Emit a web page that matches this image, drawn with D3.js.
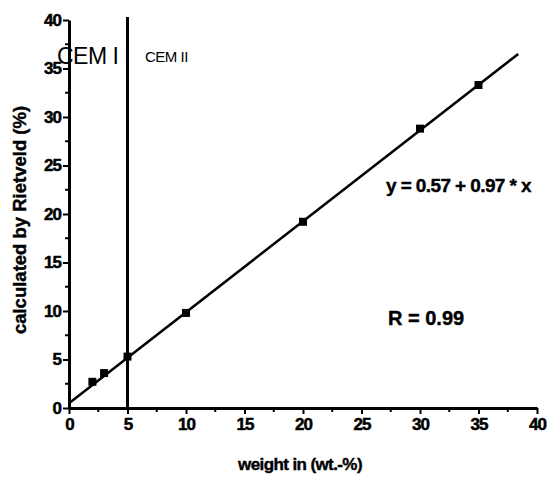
<!DOCTYPE html>
<html>
<head>
<meta charset="utf-8">
<script src="https://cdn.jsdelivr.net/npm/d3@7"></script>
<style>
  body { margin: 0; background: #fff; }
  svg { display: block; }
  text { font-family: "Liberation Sans", Arial, sans-serif; }
</style>
</head>
<body>
<svg id="chart" width="549" height="479"></svg>
<script>
// measured points (weight vs. Rietveld)
const weightX = [2, 3, 5, 10, 20, 30, 35];
const rietveldY = [2.7, 3.6, 5.3, 9.8, 19.2, 28.8, 33.3];
// fitted line as drawn
const fitX = [0, 38.4];
const fitY = [0.5, 36.5];
const majorTicks = [0, 5, 10, 15, 20, 25, 30, 35, 40];
const minorTicks = [2.5, 7.5, 12.5, 17.5, 22.5, 27.5, 32.5, 37.5];
const boundaryX = 5;

const svg = d3.select("#chart");
const x = d3.scaleLinear().domain([0, 40]).range([69, 537]);
const y = d3.scaleLinear().domain([0, 40]).range([408, 20]);

// axes
const xAxis = svg.append("g").attr("transform", "translate(0,408)")
  .call(d3.axisBottom(x).tickValues(majorTicks).tickSize(6).tickSizeOuter(0).tickPadding(4));
const yAxis = svg.append("g").attr("transform", "translate(69,0)")
  .call(d3.axisLeft(y).tickValues(majorTicks).tickSize(6).tickSizeOuter(0).tickPadding(2));
[xAxis, yAxis].forEach(g => {
  g.select(".domain").attr("stroke", "#000").attr("stroke-width", 3);
  g.selectAll(".tick line").attr("stroke", "#000").attr("stroke-width", 2);
  g.selectAll(".tick text").attr("fill", "#000").attr("font-size", 17)
    .attr("font-weight", "bold").attr("letter-spacing", -1)
    .attr("stroke", "#000").attr("stroke-width", 0.5);
});
svg.append("g").selectAll("line").data(minorTicks).enter().append("line")
  .attr("x1", d => x(d)).attr("x2", d => x(d))
  .attr("y1", 408).attr("y2", 412)
  .attr("stroke", "#000").attr("stroke-width", 2);
svg.append("g").selectAll("line").data(minorTicks).enter().append("line")
  .attr("x1", 65).attr("x2", 69)
  .attr("y1", d => y(d)).attr("y2", d => y(d))
  .attr("stroke", "#000").attr("stroke-width", 2);

// CEM I / CEM II boundary
svg.append("line")
  .attr("x1", x(boundaryX)).attr("x2", x(boundaryX))
  .attr("y1", y(0)).attr("y2", 17)
  .attr("stroke", "#000").attr("stroke-width", 3);

// fit line
svg.append("line")
  .attr("x1", x(fitX[0])).attr("y1", y(fitY[0]))
  .attr("x2", x(fitX[1])).attr("y2", y(fitY[1]))
  .attr("stroke", "#000").attr("stroke-width", 2.5);

// points
svg.append("g").selectAll("rect").data(weightX).enter().append("rect")
  .attr("x", d => x(d) - 4)
  .attr("y", (d, i) => y(rietveldY[i]) - 4)
  .attr("width", 8).attr("height", 8)
  .attr("fill", "#000");

// labels
svg.append("text").attr("x", 57).attr("y", 64)
  .attr("font-size", 23).attr("letter-spacing", -0.5)
  .text("CEM I");
svg.append("text").attr("x", 145).attr("y", 62)
  .attr("font-size", 15).attr("letter-spacing", -0.5)
  .text("CEM II");
svg.append("text").attr("x", 386).attr("y", 192)
  .attr("font-size", 19).attr("font-weight", "bold").attr("letter-spacing", -0.6)
  .attr("stroke", "#000").attr("stroke-width", 0.4)
  .text("y = 0.57 + 0.97 * x");
svg.append("text").attr("x", 388).attr("y", 325)
  .attr("font-size", 20).attr("font-weight", "bold")
  .attr("stroke", "#000").attr("stroke-width", 0.4)
  .text("R = 0.99");

svg.append("text").attr("x", 300).attr("y", 470)
  .attr("text-anchor", "middle").attr("font-size", 17).attr("font-weight", "bold")
  .attr("letter-spacing", -0.6).attr("stroke", "#000").attr("stroke-width", 0.4)
  .text("weight in (wt.-%)");
svg.append("text")
  .attr("transform", "translate(26,220) rotate(-90)")
  .attr("text-anchor", "middle").attr("font-size", 18.5).attr("font-weight", "bold")
  .attr("stroke", "#000").attr("stroke-width", 0.4)
  .text("calculated by Rietveld (%)");
</script>
</body>
</html>
